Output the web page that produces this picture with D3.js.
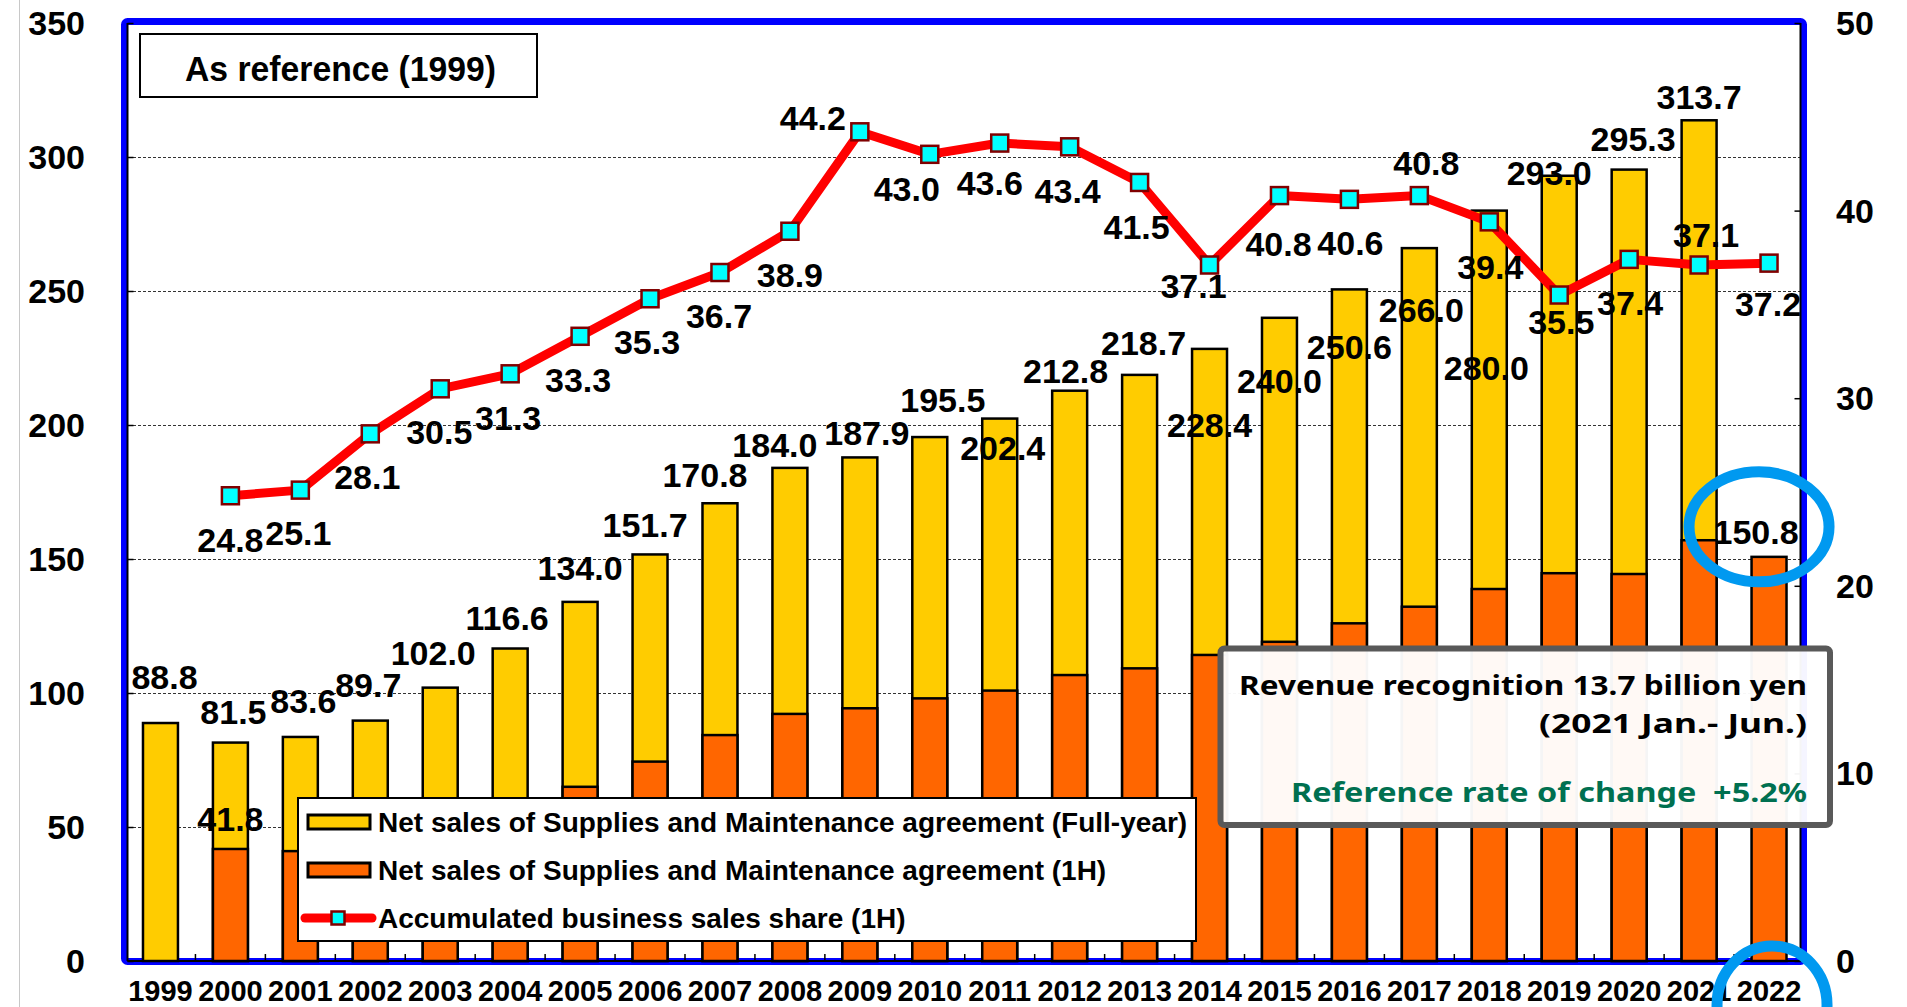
<!DOCTYPE html>
<html><head><meta charset="utf-8">
<script src="https://cdn.jsdelivr.net/npm/d3@7"></script>
<style>
html,body{margin:0;padding:0;background:#fff;}
svg{display:block;}
text{font-family:"Liberation Sans",Arial,sans-serif;font-weight:bold;fill:#000;}
</style></head><body>
<svg id="chart" width="1907" height="1007"></svg>
<script>
// ---------- data ----------
const years = ["1999","2000","2001","2002","2003","2004","2005","2006","2007","2008","2009","2010","2011","2012","2013","2014","2015","2016","2017","2018","2019","2020","2021","2022"];
const fullYearSales = [88.8,81.5,83.6,89.7,102.0,116.6,134.0,151.7,170.8,184.0,187.9,195.5,202.4,212.8,218.7,228.4,240.0,250.6,266.0,280.0,293.0,295.3,313.7,null];
const firstHalfSales = [null,41.8,41.0,44.5,49.5,56.0,65.0,74.4,84.3,92.2,94.3,98.0,100.9,106.7,109.2,114.2,119.1,126.0,132.2,138.8,144.7,144.4,157.0,150.8];
const shareFirstHalf = [null,24.8,25.1,28.1,30.5,31.3,33.3,35.3,36.7,38.9,44.2,43.0,43.6,43.4,41.5,37.1,40.8,40.6,40.8,39.4,35.5,37.4,37.1,37.2];
const leftTickValues = [0,50,100,150,200,250,300,350];
const rightTickValues = [0,10,20,30,40,50];
const firstHalfLabelYears = ["2000","2022"];
const legendLabels = [
  "Net sales of Supplies and Maintenance agreement (Full-year)",
  "Net sales of Supplies and Maintenance agreement (1H)",
  "Accumulated business sales share (1H)"
];
const noteTitle = "As reference (1999)";
const noteLines = ["Revenue recognition 13.7 billion yen","(2021 Jan.- Jun.)"];
const noteRate = "Reference rate of change  +5.2%";

// ---------- label placement (layout offsets, px) ----------
const fullLabelDx = [4,3,3,-2,-7,-3,0,-5,-15,-15,7,13,3,-4,4,0,0,0,2,-3,-10,4,0,0];
const fullLabelDy = [-46,-31,-36,-36,-35,-31,-34,-29,-28,-23,-24,-37,29,-20,-32,76,63,58,62,157,-3,-31,-23,0];
const halfLabelOffset = {"2000":[0,-30],"2022":[-13,-25]};
const shareLabelDx = [0,0,-2,-3,-1,-2,-2,-3,-1,0,-47,-23,-10,-2,-3,-16,-1,1,7,1,2,1,7,-1];
const shareLabelDy = [0,44,43,43,43,44,44,43,43,44,-14,35,40,44,45,21,48,44,-33,45,27,44,-30,41];

// ---------- layout ----------
const svg = d3.select("#chart");
const plot = {left:125.5, right:1804, top:23, bottom:961};

const x = d3.scaleBand().domain(years).range([plot.left, plot.right]).paddingInner(0.5).paddingOuter(0.25);
const yL = d3.scaleLinear().domain([0,350]).range([plot.bottom, plot.top]);
const yR = d3.scaleLinear().domain([0,50]).range([plot.bottom, plot.top]);
const cx = d => x(d) + x.bandwidth()/2;

// thin grey line at far left
svg.append("line").attr("x1",19.5).attr("x2",19.5).attr("y1",0).attr("y2",1007)
  .attr("stroke","#c8c8c8").attr("stroke-width",1);

// blue frame
svg.append("rect").attr("x",124.5).attr("y",21.5).attr("width",1679).attr("height",940)
  .attr("fill","none").attr("stroke","#0000FF").attr("stroke-width",7).attr("rx",3);

// gridlines
svg.append("g").selectAll("line").data(leftTickValues.filter(v=>v>0 && v<350)).join("line")
  .attr("x1",128).attr("x2",1800).attr("y1",d=>Math.round(yL(d))+0.5).attr("y2",d=>Math.round(yL(d))+0.5)
  .attr("stroke","#333").attr("stroke-width",1).attr("stroke-dasharray","3,2");

// inner black axis lines
const ax = svg.append("g").attr("stroke","#000").attr("stroke-width",2);
ax.append("line").attr("x1",127.5).attr("x2",127.5).attr("y1",plot.top).attr("y2",plot.bottom);
ax.append("line").attr("x1",1800.5).attr("x2",1800.5).attr("y1",plot.top).attr("y2",plot.bottom);
ax.append("line").attr("x1",127.5).attr("x2",1800.5).attr("y1",plot.bottom).attr("y2",plot.bottom);

// axes via d3 axis generators
const leftAxis = svg.append("g").attr("transform",`translate(127.5,0)`)
  .call(d3.axisRight(yL).tickValues(leftTickValues).tickSize(6).tickFormat(""));
const rightAxis = svg.append("g").attr("transform",`translate(1800.5,0)`)
  .call(d3.axisLeft(yR).tickValues(rightTickValues).tickSize(6).tickFormat(""));
[leftAxis,rightAxis].forEach(g=>{g.select(".domain").remove(); g.selectAll("line").attr("stroke","#000").attr("stroke-width",1.5);});

// x ticks at category boundaries
svg.append("g").selectAll("line").data(years.slice(1)).join("line")
  .attr("x1",d=>x(d)-x.step()*x.paddingInner()/2).attr("x2",d=>x(d)-x.step()*x.paddingInner()/2)
  .attr("y1",plot.bottom).attr("y2",plot.bottom-7).attr("stroke","#000").attr("stroke-width",1.5);

// axis labels
svg.append("g").selectAll("text").data(leftTickValues).join("text")
  .attr("x",85).attr("y",d=>yL(d)).attr("text-anchor","end").attr("dominant-baseline","central")
  .style("font-size","34px").text(d=>d);
svg.append("g").selectAll("text").data(rightTickValues).join("text")
  .attr("x",1836).attr("y",d=>yR(d)).attr("text-anchor","start").attr("dominant-baseline","central")
  .style("font-size","34px").text(d=>d);
svg.append("g").selectAll("text").data(years).join("text")
  .attr("x",d=>cx(d)).attr("y",991).attr("text-anchor","middle").attr("dominant-baseline","central")
  .style("font-size","29px").text(d=>d);

// bars
const fullData = years.map((y,i)=>({y, v:fullYearSales[i]})).filter(d=>d.v!=null);
const halfData = years.map((y,i)=>({y, v:firstHalfSales[i]})).filter(d=>d.v!=null);
svg.append("g").selectAll("rect").data(fullData).join("rect")
  .attr("x",d=>x(d.y)).attr("width",x.bandwidth()).attr("y",d=>yL(d.v)).attr("height",d=>yL(0)-yL(d.v))
  .attr("fill","#FFCC00").attr("stroke","#000").attr("stroke-width",2.5);
svg.append("g").selectAll("rect").data(halfData).join("rect")
  .attr("x",d=>x(d.y)).attr("width",x.bandwidth()).attr("y",d=>yL(d.v)).attr("height",d=>yL(0)-yL(d.v))
  .attr("fill","#FF6600").attr("stroke","#000").attr("stroke-width",2.5);

// share line
const shareData = years.map((y,i)=>({y, v:shareFirstHalf[i], i})).filter(d=>d.v!=null);
svg.append("path").datum(shareData)
  .attr("d",d3.line().x(d=>cx(d.y)).y(d=>yR(d.v)))
  .attr("fill","none").attr("stroke","#FF0000").attr("stroke-width",9).attr("stroke-linejoin","round");
const ms = 17;
svg.append("g").selectAll("rect").data(shareData).join("rect")
  .attr("x",d=>cx(d.y)-ms/2).attr("y",d=>yR(d.v)-ms/2).attr("width",ms).attr("height",ms)
  .attr("fill","#00FFFF").attr("stroke","#800000").attr("stroke-width",2.5);

// data labels
const lbl = svg.append("g").style("font-size","34px");
years.forEach((yr,i)=>{
  if(fullYearSales[i]!=null){
    lbl.append("text").attr("x",cx(yr)+fullLabelDx[i]).attr("y",yL(fullYearSales[i])+fullLabelDy[i])
      .attr("text-anchor","middle").attr("dominant-baseline","central").text(d3.format(".1f")(fullYearSales[i]));
  }
  if(firstHalfLabelYears.includes(yr)){
    const o = halfLabelOffset[yr];
    lbl.append("text").attr("x",cx(yr)+o[0]).attr("y",yL(firstHalfSales[i])+o[1])
      .attr("text-anchor","middle").attr("dominant-baseline","central").text(d3.format(".1f")(firstHalfSales[i]));
  }
  if(shareFirstHalf[i]!=null){
    lbl.append("text").attr("x",cx(yr)+shareLabelDx[i]).attr("y",yR(shareFirstHalf[i])+shareLabelDy[i])
      .attr("text-anchor","middle").attr("dominant-baseline","central").text(d3.format(".1f")(shareFirstHalf[i]));
  }
});

// legend
const lg = svg.append("g");
lg.append("rect").attr("x",298).attr("y",798).attr("width",898).attr("height",143)
  .attr("fill","#fff").attr("stroke","#000").attr("stroke-width",2);
const rowY = [822,870,918];
lg.append("rect").attr("x",308).attr("y",rowY[0]-7).attr("width",62).attr("height",14)
  .attr("fill","#FFCC00").attr("stroke","#000").attr("stroke-width",3);
lg.append("rect").attr("x",308).attr("y",rowY[1]-7).attr("width",62).attr("height",14)
  .attr("fill","#FF6600").attr("stroke","#000").attr("stroke-width",3);
lg.append("line").attr("x1",305).attr("x2",372).attr("y1",rowY[2]).attr("y2",rowY[2])
  .attr("stroke","#FF0000").attr("stroke-width",9).attr("stroke-linecap","round");
lg.append("rect").attr("x",338-6.5).attr("y",rowY[2]-6.5).attr("width",13).attr("height",13)
  .attr("fill","#00FFFF").attr("stroke","#800000").attr("stroke-width",2.5);
lg.selectAll("text.l").data(legendLabels).join("text").attr("class","l")
  .attr("x",378).attr("y",(d,i)=>rowY[i]).attr("dominant-baseline","central")
  .style("font-size","28px").text(d=>d);

// "As reference" box
svg.append("rect").attr("x",140).attr("y",34).attr("width",397).attr("height",63)
  .attr("fill","#fff").attr("stroke","#000").attr("stroke-width",2);
svg.append("text").attr("x",185).attr("y",68).attr("text-anchor","start").attr("dominant-baseline","central")
  .attr("textLength",311).attr("lengthAdjust","spacingAndGlyphs")
  .style("font-size","35px").style("font-weight","600").text(noteTitle);

// revenue recognition box
svg.append("rect").attr("x",1220.5).attr("y",648.5).attr("width",609.5).attr("height",176.5)
  .attr("fill","#fff").attr("fill-opacity",0.96).attr("stroke","#595959").attr("stroke-width",6).attr("rx",4);
const nt = svg.append("g").style("font-size","27px");
const noteSpecs = [
  {t:noteLines[0], y:684, w:568, c:"#000"},
  {t:noteLines[1], y:722, w:268, c:"#000"},
  {t:noteRate,     y:791, w:516, c:"#007050"}
];
noteSpecs.forEach(s=>{
  nt.append("text").attr("x",1807-s.w).attr("y",s.y).attr("dominant-baseline","central")
    .attr("textLength",s.w).attr("lengthAdjust","spacingAndGlyphs").attr("xml:space","preserve")
    .style("font-family","'Noto Sans',sans-serif").style("fill",s.c).text(s.t);
});

// highlight ellipses
const idx22 = years.indexOf("2022");
svg.append("ellipse").attr("cx",cx("2022")-10).attr("cy",yL(firstHalfSales[idx22])-30).attr("rx",70).attr("ry",55)
  .attr("fill","none").attr("stroke","#0099F0").attr("stroke-width",11);
svg.append("ellipse").attr("cx",cx("2022")+3).attr("cy",1005).attr("rx",55).attr("ry",59)
  .attr("fill","none").attr("stroke","#0099F0").attr("stroke-width",11);
</script>
</body></html>
